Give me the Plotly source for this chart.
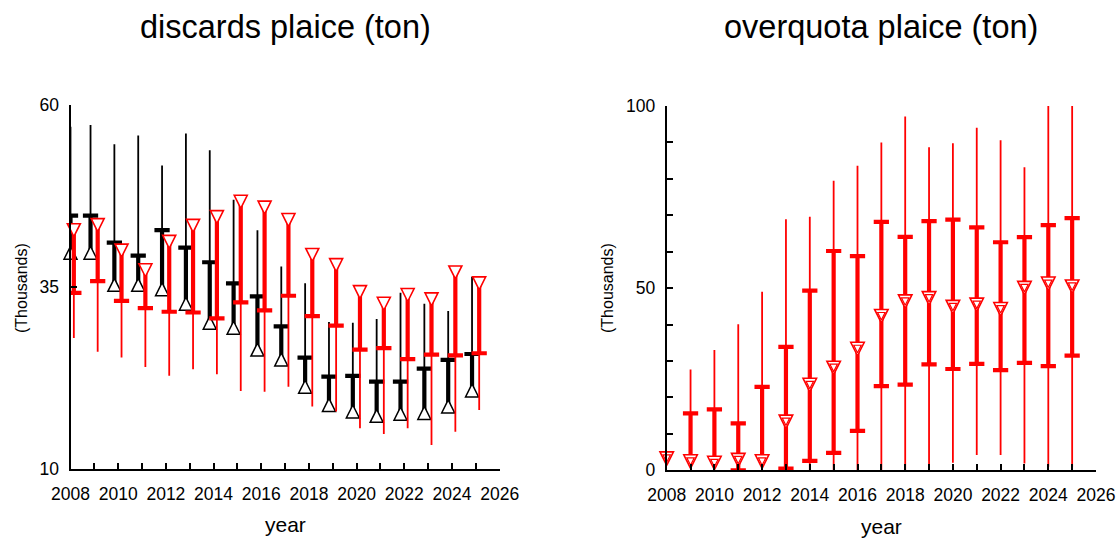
import numpy as np
import plotly.graph_objects as go

# ---------------- data (values in thousands of tonnes) ----------------
years = list(range(2008, 2026))

# discards plaice - black series (up triangles)
disc_a_med = [39.7, 39.7, 35.3, 35.3, 34.7, 32.7, 30.1, 29.4, 26.4, 25.05, 21.3, 18.8, 17.9, 17.3, 17.6, 17.7, 18.6, 20.8]
disc_a_q3 = [44.8, 44.8, 41.1, 39.3, 42.8, 40.4, 38.4, 35.5, 33.7, 29.6, 25.3, 22.7, 22.8, 22.0, 22.0, 23.8, 25.0, 25.8]
disc_a_hi = [57.0, 57.25, 54.6, 55.8, 51.7, 56.1, 53.8, 47.0, 42.8, 37.8, 35.5, 30.2, 30.1, 30.6, 34.2, 32.7, 31.7, 36.4]

# discards plaice - red series (down triangles)
disc_b_med = [42.8, 43.5, 40.0, 37.3, 41.2, 43.4, 44.6, 46.7, 45.9, 44.2, 39.4, 38.0, 34.3, 32.7, 33.9, 33.3, 37.0, 35.5]
disc_b_q1 = [34.2, 35.8, 33.1, 32.1, 31.6, 31.5, 30.7, 32.9, 31.8, 33.8, 31.0, 29.7, 26.4, 26.6, 25.1, 25.7, 25.6, 25.9]
disc_b_lo = [28.0, 26.1, 25.3, 24.0, 22.8, 23.7, 23.0, 20.7, 20.6, 21.3, 18.6, 17.9, 15.6, 14.8, 15.6, 13.3, 15.1, 18.1]

# overquota plaice - red series
over_lo = [3.2, 2.4, 2.0, 0.0, 2.4, 0.0, 0.0, 0.0, 0.0, 0.0, 0.0, 0.0, 2.1, 4.2, 4.2, 1.9, 1.0, 1.0]
over_q1 = [3.2, 2.4, 2.0, 0.0, 2.4, 0.5, 2.6, 4.8, 10.8, 23.1, 23.5, 29.1, 27.8, 29.2, 27.5, 29.5, 28.6, 31.5]
over_med = [3.2, 2.4, 2.0, 2.8, 2.4, 13.3, 23.4, 28.1, 33.3, 42.3, 46.3, 47.2, 44.8, 45.4, 44.2, 50.0, 51.2, 50.4]
over_q3 = [3.2, 15.6, 16.7, 12.9, 22.9, 33.9, 49.3, 60.2, 58.8, 68.2, 64.1, 68.4, 68.8, 66.7, 62.6, 64.0, 67.3, 69.2]
over_hi = [3.2, 27.7, 33.0, 40.1, 49.0, 68.9, 69.6, 79.5, 83.6, 90.0, 97.1, 88.7, 89.8, 94.0, 90.6, 83.2, 100.0, 100.0]

x_ticks = list(range(2008, 2027))
x_ticktext = [str(v) if v % 2 == 0 else "" for v in x_ticks]
left_yticks = [10, 35, 60]
right_yticks = list(range(0, 101, 10))
right_yticktext = [str(v) if v % 50 == 0 else "" for v in right_yticks]

# ---------------- styling ----------------
RED = "#ff0000"
BLACK = "#000000"
FONT = "Liberation Sans, Arial, sans-serif"
W, H = 1117, 538
CAPW = 0.32

fig = go.Figure()


def tri_marker(pointing, size, color, lw):
    # isosceles triangle (width == height == size) centred on the data point
    angle = 180 if pointing == "up" else 0
    return dict(symbol="arrow-down", angle=angle, standoff=size / 2.0, size=size,
                color="white", line=dict(color=color, width=lw))


def add_box(x, lo, q1, med, q3, hi, color, xa, ya, pointing, msize, mline, inner=False):
    tx, ty, kx, ky, cx, cy = [], [], [], [], [], []
    for xi, l, a, m, b, h in zip(x, lo, q1, med, q3, hi):
        if h > l:
            tx += [xi, xi, None]
            ty += [l, h, None]
        if b > a:
            kx += [xi, xi, None]
            ky += [a, b, None]
        for q in (a, b):
            if q != m:
                cx += [xi - CAPW, xi + CAPW, None]
                cy += [q, q, None]
    common = dict(xaxis=xa, yaxis=ya, showlegend=False, hoverinfo="skip")
    fig.add_trace(go.Scatter(x=tx, y=ty, mode="lines", line=dict(color=color, width=1.8), **common))
    fig.add_trace(go.Scatter(x=kx, y=ky, mode="lines", line=dict(color=color, width=4.2), **common))
    fig.add_trace(go.Scatter(x=cx, y=cy, mode="lines", line=dict(color=color, width=4.2), **common))
    fig.add_trace(go.Scatter(x=list(x), y=med, mode="markers", cliponaxis=False,
                             marker=tri_marker(pointing, msize, color, mline), **common))
    if inner:
        fig.add_trace(go.Scatter(x=list(x), y=med, mode="markers", cliponaxis=False,
                                 marker=tri_marker(pointing, msize * 0.55, color, 1.2), **common))


yrs = np.array(years, dtype=float)
black_x = np.maximum(yrs - 0.16, 2008.0)
red_x = yrs + 0.14

add_box(black_x, disc_a_med, disc_a_med, disc_a_med, disc_a_q3, disc_a_hi, BLACK, "x", "y",
        "up", 13, 1.5)
add_box(red_x, disc_b_lo, disc_b_q1, disc_b_med, disc_b_med, disc_b_med, RED, "x", "y",
        "down", 13, 1.6)
add_box(yrs, over_lo, over_q1, over_med, over_q3, over_hi, RED, "x2", "y2",
        "down", 13.5, 1.6, inner=True)

axis_common = dict(showline=True, linecolor=BLACK, linewidth=2, ticks="inside", ticklen=6,
                   tickwidth=2, tickcolor=BLACK, showgrid=False, zeroline=False,
                   automargin=False,
                   tickfont=dict(family=FONT, size=17.5, color=BLACK))

fig.update_layout(
    width=W, height=H,
    margin=dict(l=0, r=0, t=0, b=0, pad=0, autoexpand=False),
    paper_bgcolor="white", plot_bgcolor="white",
    font=dict(family=FONT, color=BLACK),
    xaxis=dict(domain=[70.5 / W, 499.7 / W], range=[2008, 2026], tickmode="array",
               tickvals=x_ticks, ticktext=x_ticktext, anchor="y", ticklabelstandoff=8,
               **axis_common),
    yaxis=dict(domain=[1 - 469 / H, 1 - 105 / H], range=[10, 60], tickmode="array",
               tickvals=left_yticks, ticktext=[str(v) for v in left_yticks], anchor="x",
               ticklabelstandoff=6, **axis_common),
    xaxis2=dict(domain=[666.7 / W, 1096 / W], range=[2008, 2026], tickmode="array",
                tickvals=x_ticks, ticktext=x_ticktext, anchor="y2", ticklabelstandoff=8,
                **axis_common),
    yaxis2=dict(domain=[1 - 470.3 / H, 1 - 106 / H], range=[0, 100], tickmode="array",
                tickvals=right_yticks, ticktext=right_yticktext, anchor="x2",
                ticklabelstandoff=6, **axis_common),
)

ann = []
for xc, title in [(285, "discards plaice (ton)"), (881, "overquota plaice (ton)")]:
    ann.append(dict(text=title, x=xc / W, y=1 - 27 / H, xref="paper", yref="paper",
                    xanchor="center", yanchor="middle", showarrow=False,
                    font=dict(family=FONT, size=32.5, color=BLACK)))
for xc, yc in [(285, 524.5), (881, 526.5)]:
    ann.append(dict(text="year", x=xc / W, y=1 - yc / H, xref="paper", yref="paper",
                    xanchor="center", yanchor="middle", showarrow=False,
                    font=dict(family=FONT, size=21, color=BLACK)))
for xc in [21, 607]:
    ann.append(dict(text="(Thousands)", x=xc / W, y=1 - 288 / H, xref="paper", yref="paper",
                    xanchor="center", yanchor="middle", showarrow=False, textangle=-90,
                    font=dict(family=FONT, size=16, color=BLACK)))
fig.update_layout(annotations=ann)

fig.write_html("out.html")
